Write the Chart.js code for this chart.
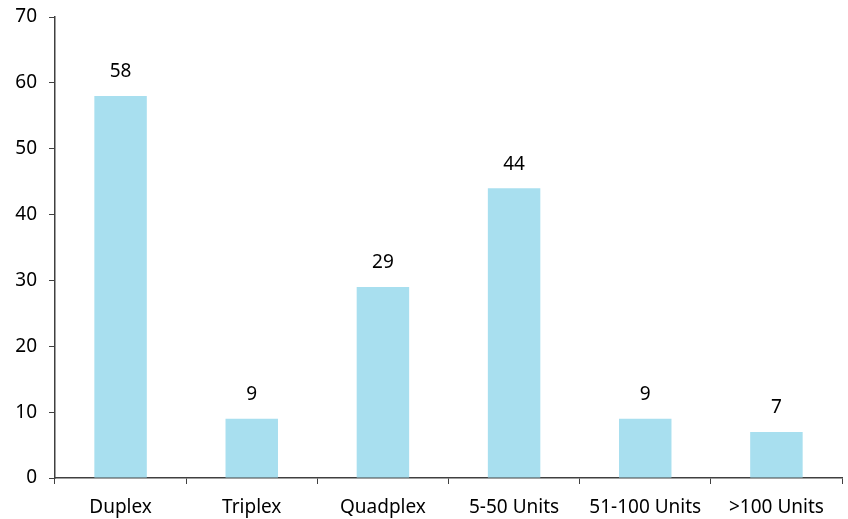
<!DOCTYPE html>
<html><head><meta charset="utf-8">
<script src="https://cdn.jsdelivr.net/npm/chart.js@4"></script>
<style>html,body{margin:0;padding:0;background:#fff}#w{width:848px;height:519px}</style>
</head><body><div id="w"><canvas id="c"></canvas></div>
<script>
const categories = ["Duplex","Triplex","Quadplex","5-50 Units","51-100 Units",">100 Units"];
const values = [58, 9, 29, 44, 9, 7];
const yTicks = [0,10,20,30,40,50,60,70];

const FONT = "'Noto Sans', sans-serif";
const labelPlugin = {
  id: 'lbl',
  afterDatasetsDraw(chart) {
    const ctx = chart.ctx;
    const meta = chart.getDatasetMeta(0);
    ctx.save();
    ctx.font = "19px " + FONT;
    ctx.fillStyle = "#000";
    ctx.textAlign = "center";
    ctx.textBaseline = "middle";
    meta.data.forEach((bar, i) => {
      ctx.fillText(String(values[i]), bar.x, bar.y - 24);
    });
    ctx.restore();
  }
};

new Chart(document.getElementById('c'), {
  type: 'bar',
  data: { labels: categories, datasets: [{ data: values, backgroundColor: '#a8dfef', barPercentage: 0.4, categoryPercentage: 1.0 }] },
  options: {
    responsive: true, maintainAspectRatio: false, animation: false,
    layout: { padding: { top: 17, right: 6, left: 0, bottom: 0 } },
    plugins: { legend: { display: false }, tooltip: { enabled: false } },
    scales: {
      x: {
        grid: { display: true, drawOnChartArea: false, drawTicks: true, tickLength: 6, tickColor: '#404040', offset: true },
        border: { color: '#404040', width: 1.5 },
        ticks: { color: '#000', font: { family: FONT, size: 19 }, padding: 12, maxRotation: 0 },
        afterFit(s) { s.height = 41; s.paddingLeft = 0; s.paddingRight = 0; }
      },
      y: {
        min: 0, max: 70,
        grid: { display: true, drawOnChartArea: false, drawTicks: true, tickLength: 6, tickColor: '#404040' },
        border: { color: '#404040', width: 1.5 },
        ticks: { stepSize: 10, color: '#000', font: { family: FONT, size: 19 }, padding: 12,
          callback: (v) => yTicks.includes(v) ? String(v) : '' },
        afterFit(s) { s.width = 55; s.paddingTop = 0; s.paddingBottom = 0; }
      }
    }
  },
  plugins: [labelPlugin]
});
</script></body></html>
